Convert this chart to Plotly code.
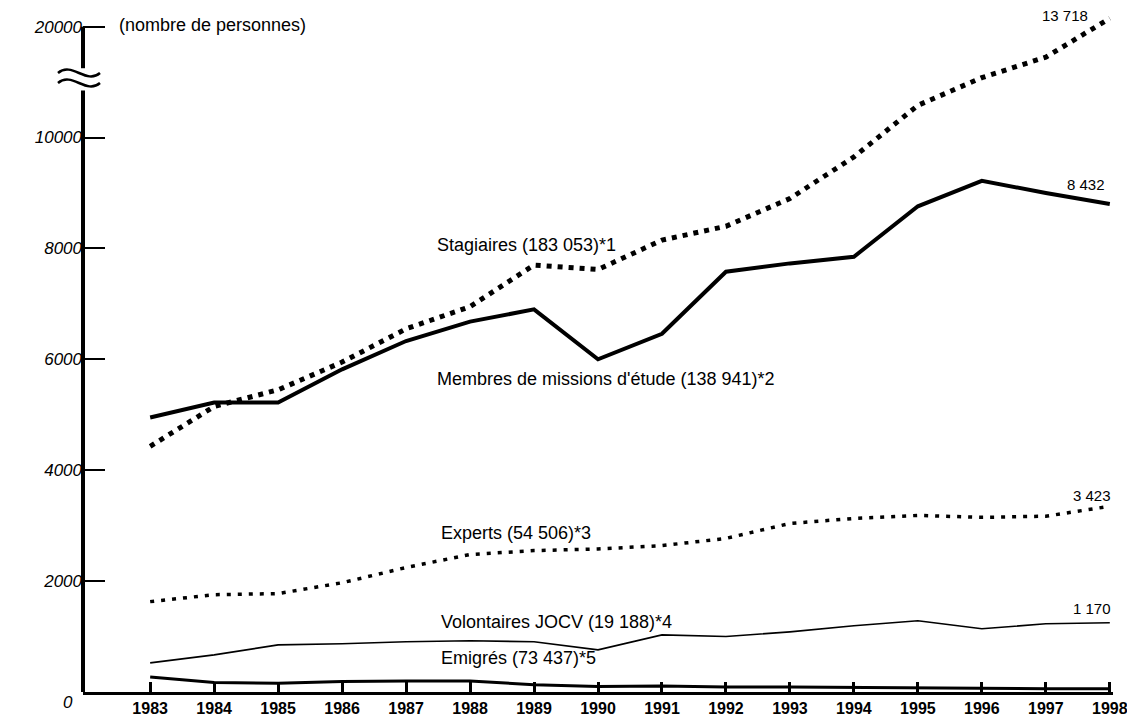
import plotly.graph_objects as go

years = list(range(1983, 1999))
stagiaires = [4430, 5150, 5450, 5950, 6550, 6950, 7700, 7620, 8150, 8400, 8900, 9650, 10580, 11080, 11450, 12150]
membres = [4950, 5220, 5220, 5820, 6330, 6680, 6900, 6000, 6460, 7580, 7730, 7850, 8760, 9220, 9000, 8800]
experts = [1630, 1755, 1775, 1970, 2245, 2480, 2550, 2580, 2640, 2770, 3040, 3130, 3185, 3150, 3170, 3350]
volontaires = [525, 670, 850, 870, 905, 925, 905, 760, 1030, 1000, 1085, 1195, 1285, 1140, 1230, 1250]
emigres = [270, 170, 160, 190, 200, 200, 130, 100, 110, 90, 90, 80, 80, 60, 60, 60]

y_tickvals = [2000, 4000, 6000, 8000, 10000, 12000]
y_ticktext = ["2000", "4000", "6000", "8000", "10000", "20000"]

series_labels = [
    "Stagiaires (183 053)*1",
    "Membres de missions d'étude (138 941)*2",
    "Experts (54 506)*3",
    "Volontaires JOCV (19 188)*4",
    "Emigrés (73 437)*5",
]
end_labels = ["13 718", "8 432", "3 423", "1 170"]
unit_label = "(nombre de personnes)"

FONT = "Liberation Sans"
# The page body adds an 8px offset; the figure is sized/margined to compensate.
OFF = 8
L, T, PW, PH = 83 - OFF, 10 - OFF, 1030, 682
W, H = 1135 - OFF, 721 - OFF

fig = go.Figure()

fig.add_trace(go.Scatter(x=years, y=experts, mode="lines",
                         line=dict(color="black", width=3.5, dash="4px,7px")))
fig.add_trace(go.Scatter(x=years, y=stagiaires, mode="lines",
                         line=dict(color="black", width=5, dash="5px,6px")))
fig.add_trace(go.Scatter(x=years, y=membres, mode="lines",
                         line=dict(color="black", width=4)))
fig.add_trace(go.Scatter(x=years, y=volontaires, mode="lines",
                         line=dict(color="black", width=1.6)))
fig.add_trace(go.Scatter(x=years, y=emigres, mode="lines",
                         line=dict(color="black", width=3)))

lab_pos = [(1987.45, 8061), (1987.45, 5645), (1987.52, 2867), (1987.52, 1262), (1987.52, 613)]
for txt, (xx, yy) in zip(series_labels, lab_pos):
    fig.add_annotation(x=xx, y=yy, text=txt, showarrow=False, xanchor="left", yanchor="middle",
                       font=dict(family=FONT, size=18, color="black"))

end_pos = [(1997.69, 12209), (1997.95, 9145), (1998.05, 3535), (1998.05, 1515)]
for txt, (xx, yy) in zip(end_labels, end_pos):
    fig.add_annotation(x=xx, y=yy, text=txt, showarrow=False, xanchor="right", yanchor="middle",
                       font=dict(family=FONT, size=15, color="black"))

fig.add_annotation(x=1982.48, y=12029, text=unit_label, showarrow=False, xanchor="left",
                   yanchor="middle", font=dict(family=FONT, size=18, color="black"))


def px2py(p):
    return (692 - p) / PH


def px2x(p):
    return (p - 83) / PW


fig.add_annotation(xref="paper", yref="paper", x=px2x(68), y=px2py(702), text="<i>0</i>",
                   showarrow=False, xanchor="center", yanchor="middle",
                   font=dict(family=FONT, size=17, color="black"))

# y axis line with break
fig.add_shape(type="line", xref="paper", yref="y", x0=0, x1=0, y0=0, y1=10850,
              line=dict(color="black", width=4))
fig.add_shape(type="line", xref="paper", yref="y", x0=0, x1=0, y0=11250, y1=12000,
              line=dict(color="black", width=4))

for yc in (73, 83):
    x0, x1 = px2x(58), px2x(100)
    w = x1 - x0
    a = 6 / PH
    y0 = px2py(yc)
    path = f"M {x0},{y0} C {x0 + w/3},{y0 + 2*a} {x0 + 2*w/3},{y0 - 2*a} {x1},{y0}"
    fig.add_shape(type="path", xref="paper", yref="paper", path=path,
                  line=dict(color="black", width=2.5))

fig.update_layout(
    width=W, height=H,
    margin=dict(l=L, r=W - L - PW, t=T, b=H - T - PH),
    paper_bgcolor="white", plot_bgcolor="white",
    showlegend=False, hovermode=False,
    xaxis=dict(range=[1981.95, 1998.05], tickmode="array", tickvals=years,
               ticktext=[f"<b>{y}</b>" for y in years],
               showgrid=False, zeroline=False, showline=True, linecolor="black", linewidth=3,
               ticks="inside", ticklen=10, tickwidth=3, tickcolor="black",
               tickfont=dict(family=FONT, size=16, color="black"), automargin=False),
    yaxis=dict(range=[0, 12300], tickmode="array", tickvals=y_tickvals,
               ticktext=[f"<i>{t}</i>" for t in y_ticktext],
               showgrid=False, zeroline=False, showline=False,
               ticks="inside", ticklen=22, tickwidth=2, tickcolor="black",
               tickfont=dict(family=FONT, size=17, color="black"), automargin=False),
)

fig.write_html("out.html")
